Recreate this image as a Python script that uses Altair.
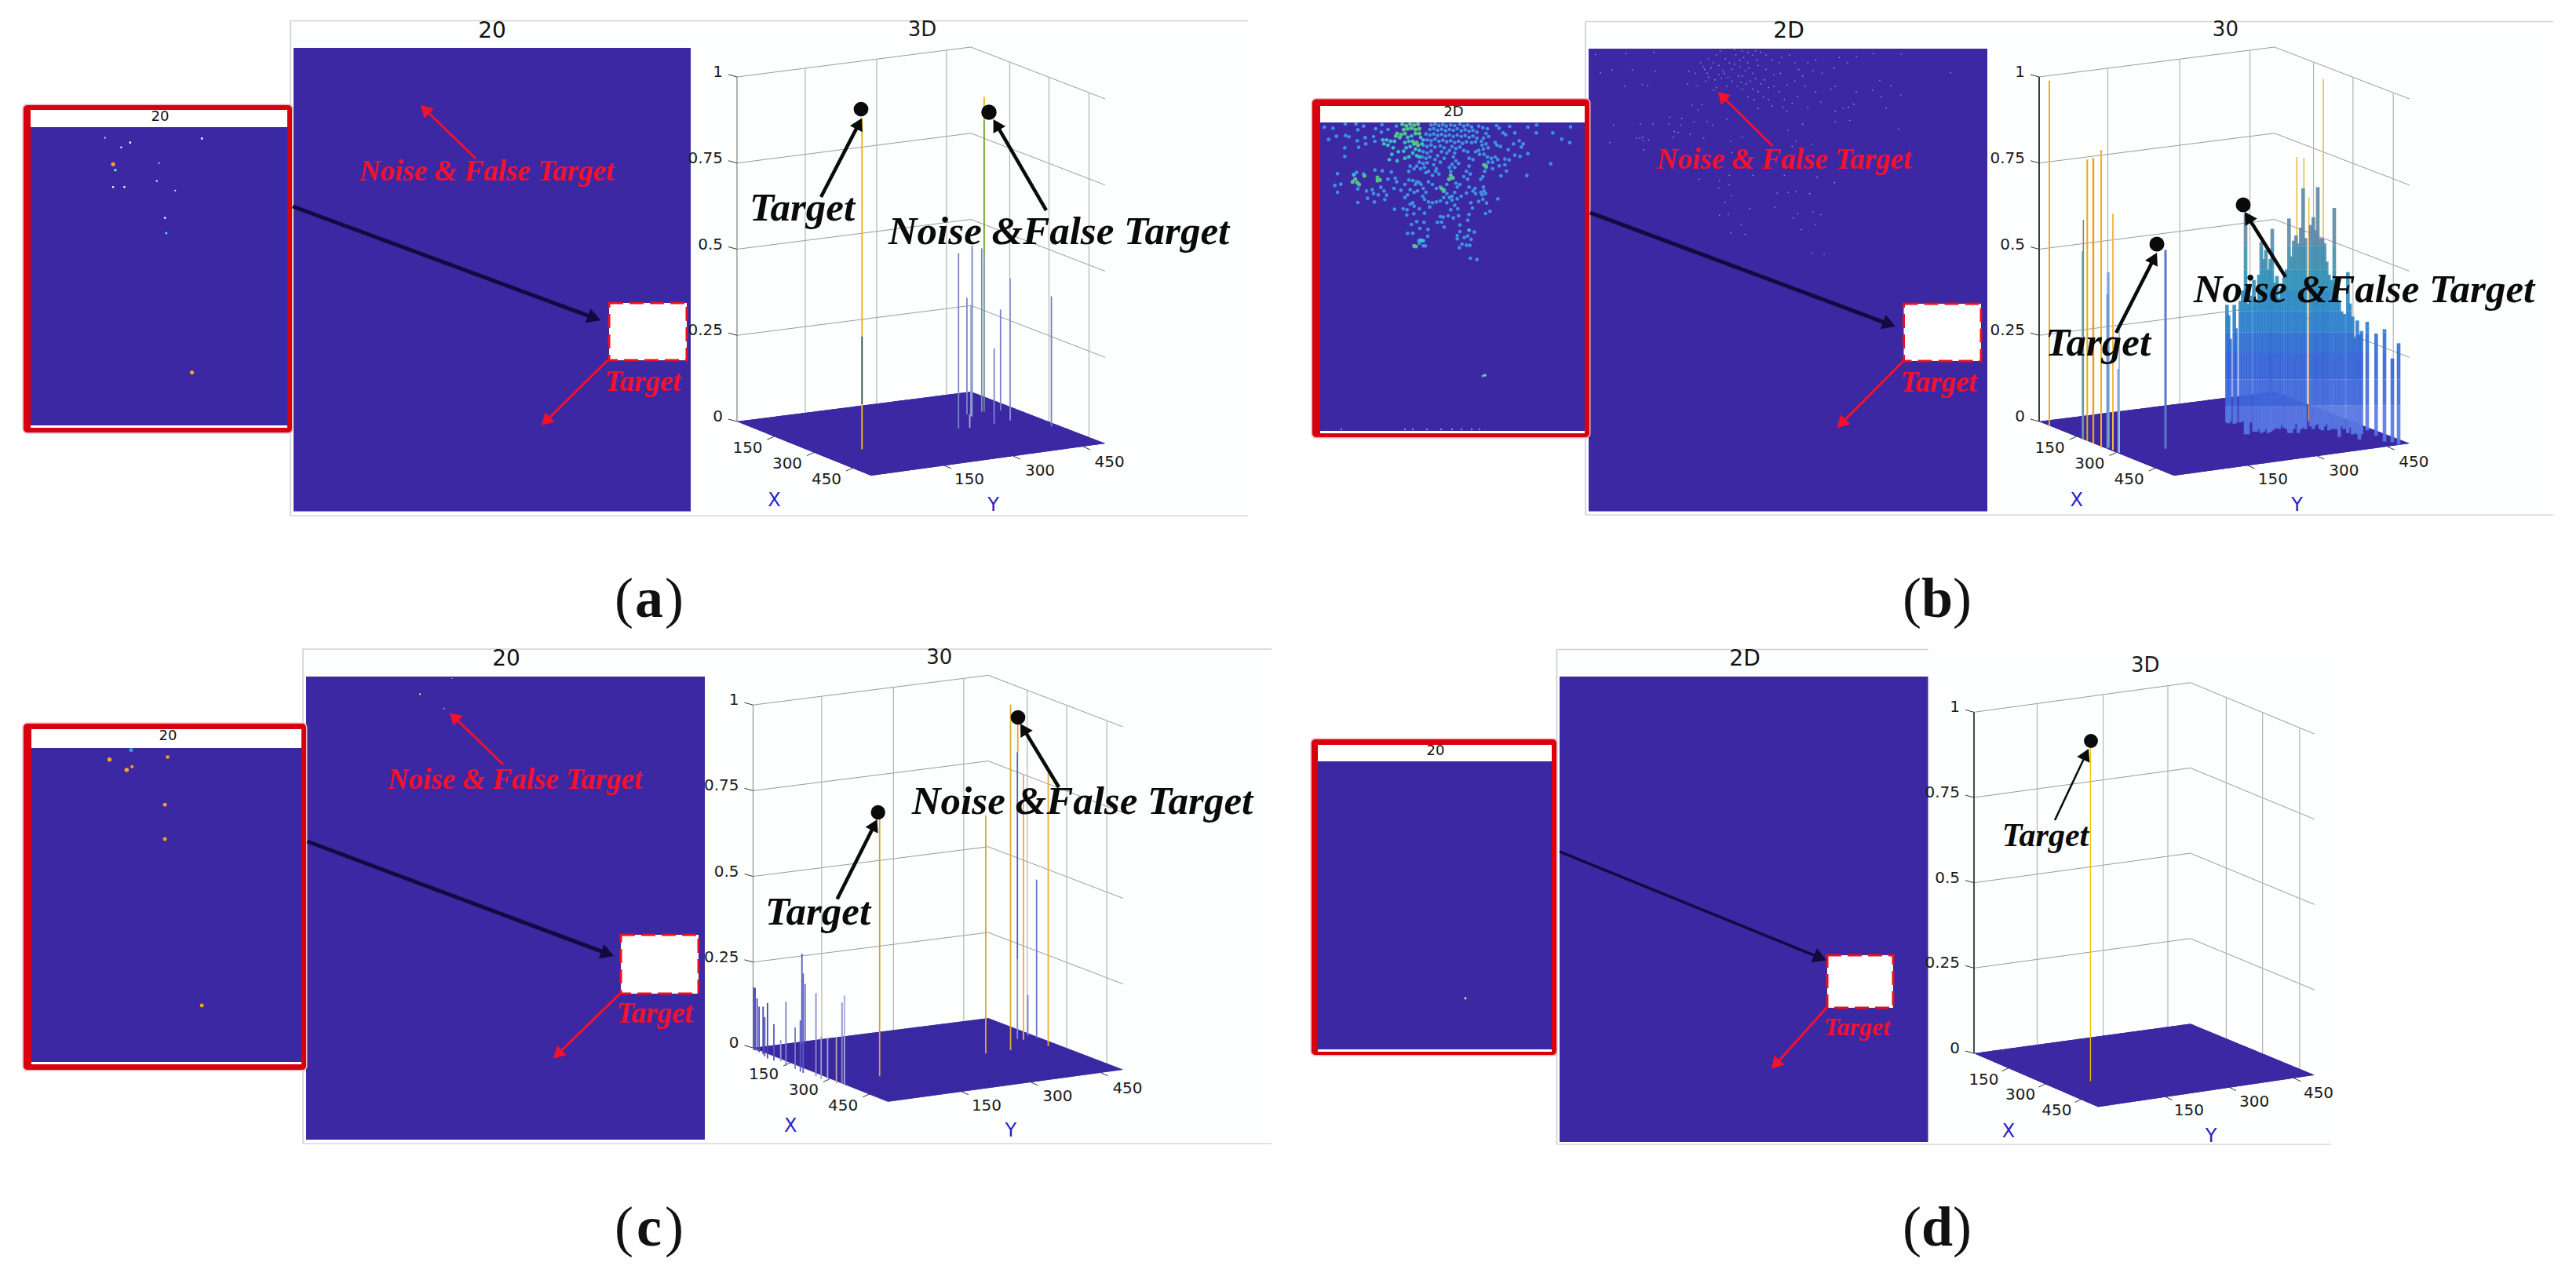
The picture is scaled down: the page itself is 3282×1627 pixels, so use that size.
import math
import altair as alt
import pandas as pd

# ---------- reading frames of the crops the values were read from ----------
Z_A = (860, 0, 1.96, 1.96)      # panel (a) 3D
Z_C = (860, 800, 1.96, 1.896)   # panel (c) 3D
Z_B_L = (2590, 80, 3, 3)        # panel (b) 3D, left spikes
Z_B_R = (2820, 170, 3, 3)       # panel (b) 3D, forest
Z_AI = (0, 0, 1.742, 1.96)      # panel (a) inset
Z_CI = (0, 800, 1.742, 1.896)   # panel (c) inset
Z_BI = (1680, 150, 3, 3)        # panel (b) inset
Z_BM = (2020, 60, 3, 3)         # panel (b) main 2D map

BLUE = "#3b28a2"
RED = "#f5102c"
BOX_RED = "#d8000f"
ORANGE = "#f5a623"
YEL = "#e8b30c"

# ---------- 2D panels ----------
PANEL_LEFT = [370, 2020, 386, 1983.5]
PANEL_TOP = [26.5, 27.5, 827, 827.5]
PANEL_BOTTOM = [657, 656, 1457, 1458]
PANEL_RIGHT = [1590, 3253, 1620, 2970]
MAP_BOX = [(374, 880, 61, 651.5), (2024, 2532, 62, 651.5), (390, 898, 862, 1452), (1987, 2456.5, 862, 1455)]
WHITE_BOX = [(776, 875, 386, 459), (2425.5, 2524, 387, 460), (791, 890, 1191, 1266), (2328, 2412, 1217, 1284)]
RED_OUTER = [(30, 372, 134, 551), (1672, 2025, 126.5, 557), (30, 390, 922, 1363), (1671, 1983, 942, 1344)]
INSET_WHITE = [(39, 366, 140, 545), (1682, 2019, 135, 552), (40, 384, 929, 1356), (1679, 1977, 949, 1340)]
INSET_MAP = [(39, 366, 162, 542), (1682, 2019, 156, 549), (40, 384, 953, 1353), (1679, 1977, 970, 1337)]
MAP_TITLES = ["20", "2D", "20", "2D"]
MAP_TITLE_POS = [(627, 40), (2279, 40), (645, 840), (2223, 840)]
INSET_TITLES = ["20", "2D", "20", "20"]
INSET_TITLE_POS = [(204, 149), (1852, 143), (214, 938), (1829, 957)]
BLACK_ARROWS = [((373, 263), (765, 408), 5), ((2026, 271), (2415, 416), 5), ((391.5, 1072), (782, 1218), 5), ((1987, 1085), (2327, 1223.5), 3.5)]
RED_ARROWS = [
    ((606, 202), (536, 134)), ((774, 459), (690, 542)),
    ((2258.5, 186), (2188.5, 117)), ((2425, 460), (2340.6, 545)),
    ((641, 974), (573, 908)), ((791, 1265), (705, 1348.5)),
    ((2327, 1284), (2257, 1362)),
]
RED_TEXT = [("Noise & False Target", 620, 219, 37), ("Target", 819, 487, 37),
            ("Noise & False Target", 2273, 204, 37), ("Target", 2470, 488, 37),
            ("Noise & False Target", 656, 993.5, 37), ("Target", 834, 1292, 37),
            ("Target", 2366, 1309, 32)]
CAPTION_LETTERS = ["a", "b", "c", "d"]
CAPTION_POS = [(827, 786), (2468, 786), (827, 1587), (2468, 1587)]

# ---------- 3D panels ----------
BOX_ORIGIN = [(939, 537, 1.0, 1.0), (2598, 537, 1.006, 1.0), (959.5, 1335, 1.005, 0.995), (2515, 1342, 0.925, 0.99)]
BOX_TITLES = ["3D", "30", "30", "3D"]
Z_LEVELS = [0, 0.25, 0.5, 0.75, 1]
Z_LABELS = ["0", "0.25", "0.5", "0.75", "1"]
Z_AXIS_STYLE = [("#808080", 1.2), ("#3a3a3a", 2), ("#909090", 1.2), ("#4a4a4a", 2)]
CORNER_LEFT, CORNER_FRONT, CORNER_RIGHT, CORNER_BACK = (0, 0), (171, 69), (469, 28), (298, -38)
BOX_HEIGHT = 439
WALL_L_X = [87, 178, 267]
WALL_R_X = [347.5, 397.5, 448.5]
X_TICK_BASE = [(47.5, 19), (98, 39.5), (148, 59)]
Y_TICK_BASE = [(264, 56), (352, 44), (441, 32)]
AXIS_TICK_LABELS = ["150", "300", "450"]
X_LABEL_POS = [(13.5, 34), (64, 54), (114, 74)]
Y_LABEL_POS = [(296, 74), (386, 62.5), (474.6, 52)]
X_NAME_POS = (47.5, 101)
Y_NAME_POS = (326.6, 107)

BLACK_DOTS = [(1097, 139, 350), (1260, 143, 380), (2748, 311, 360), (2858, 261, 360),
              (1118.7, 1035, 340), (1297, 914, 350), (2664, 944, 320)]
BLACK_DOT_ARROWS = [((1046, 251), (1098, 150.5), 4.5), ((1333, 268), (1265.6, 152), 4.5),
                    ((2696, 424), (2748, 322), 4.5), ((2912, 353), (2860, 270), 4.5),
                    ((1066.6, 1145.5), (1117.6, 1044), 4.5), ((1349, 1003), (1300, 922), 4.5),
                    ((2618, 1045), (2661, 954), 2.5)]
BLACK_TEXT = [("Target", 1022, 266, 51), ("Noise &False Target", 1349, 296, 51),
              ("Target", 2673, 438, 51), ("Noise &False Target", 3012, 370, 51),
              ("Target", 1042, 1163, 51), ("Noise &False Target", 1379, 1022, 51),
              ("Target", 2606, 1065, 42)]

# ---------- spikes: crop x, top, base, colour ----------
A_SPIKES = [
    (467, 295, 840, YEL), (467, 840, 1010, "#2a4a58"), (467, 1010, 1122, "#f0c010"),
    (772, 242, 300, YEL), (772, 300, 640, "#6c9c2c"), (772, 640, 1028, "#6f8a98"),
    (708, 632, 1070, "#7488c4"), (742, 614, 1040, "#7488c4"), (729, 744, 1035, "#7c88c8"),
    (739, 762, 1040, "#98a8d0"), (736, 1035, 1068, "#a8b0d8"), (766, 620, 1028, "#708cbc"),
    (797, 870, 1058, "#7c84d0"), (813, 773, 1025, "#7a80cc"), (837, 695, 1050, "#8a90d4"),
    (940, 740, 1065, "#787ecc"),
]
C_SPIKES = [
    (511, 463, 1083, "#d2a23a"), (776, 453, 1028, "#d6a640"), (838, 185, 1020, "#dcaa38"),
    (856, 232, 300, "#e0a83c"), (855, 300, 800, "#5560b0"), (855, 800, 993, "#8090c0"),
    (870, 355, 995, "#e6ae40"), (932, 350, 1010, "#e8ae38"), (903, 608, 990, "#6a78cc"),
    (881, 887, 985, "#7a88c8"),
    (197, 868, 1020, "#4a48b8"), (200, 870, 1020, "#4a48b8"), (205, 895, 1022, "#4a48b8"),
    (210, 915, 1025, "#4a48b8"), (220, 915, 1030, "#4a48b8"), (224, 940, 1035, "#4a48b8"),
    (231, 906, 1040, "#4a48b8"), (247, 957, 1045, "#5a58c0"), (264, 995, 1047, "#9a9ad0"),
    (277, 903, 1058, "#8080c8"), (300, 965, 1065, "#7878c0"), (313, 948, 1072, "#5a58c0"),
    (317, 787, 1005, "#5a5ac4"), (320, 835, 1075, "#5a5ac4"), (325, 860, 1000, "#6a6ac8"),
    (352, 882, 1083, "#8a8ad0"), (365, 987, 1090, "#a0a0c8"), (381, 990, 1095, "#b0a8c8"),
    (403, 988, 1100, "#b8a8b8"), (417, 905, 1100, "#8a8ad0"), (423, 888, 1105, "#a8a8dc"),
]
D_SPIKES = [(2663.4, 950, 1377.5, "#f0c000")]
B_LEFT_SPIKES = [
    (63, 68, 1390, "#eeb010", 2), (208, 370, 1445, "#e8a818", 2), (231, 365, 1455, "#e0a020", 2.4),
    (261, 333, 1470, "#f0b414", 2), (306, 577, 1480, "#f0bc40", 2), (193, 600, 1440, "#6c8c98", 1.6),
    (190, 720, 1440, "#6c9aa8", 2), (288, 800, 1470, "#7fa8dc", 3.4), (285, 885, 1475, "#6a90cc", 2.6),
    (330, 1010, 1490, "#a8c0dc", 2), (326, 1170, 1490, "#7a98cc", 2), (507, 715, 1475, "#5a78c8", 3),
]
B_FOREST_GOLD = [(319, 90, 1100), (346, 93, 1100), (420, -208, 1100), (365, 245, 1100)]
B_FOREST = [
    (52,655,1105),(58,695,1108),(64,785,1100),(80,655,1110),(86,745,1105),(103,640,1105),(112,600,1100),
    (123,305,1150),(133,650,1150),(142,620,1105),(155,560,1140),(165,640,1140),(174,540,1130),(183,415,1145),
    (192,480,1140),(201,445,1130),(210,520,1145),(218,480,1140),(225,365,1135),(234,570,1130),(243,545,1125),
    (252,630,1130),(260,590,1115),(270,550,1125),(280,520,1130),(289,325,1145),(298,470,1145),(307,410,1130),
    (316,390,1110),(325,420,1145),(334,360,1130),(343,210,1125),(352,400,1130),(372,350,1120),(382,320,1130),
    (391,370,1115),(399,205,1110),(408,400,1130),(417,400,1135),(425,420,1120),(433,490,1110),(442,540,1135),
    (452,560,1130),(462,285,1130),(472,570,1130),(481,640,1160),(490,680,1120),(500,690,1130),(514,530,1145),
    (522,650,1125),(532,700,1150),(541,780,1145),(550,715,1150),(558,770,1170),(566,755,1150),(588,720,1135),
    (622,765,1155),(654,748,1178),(684,860,1180),(708,802,1190),
]
FOREST_BANDS = [(-300, 430, "#5c88a6"), (430, 520, "#3f8eae"), (520, 600, "#3190b8"), (600, 680, "#2a88c4"),
                (680, 760, "#2a7ecc"), (760, 840, "#2e6ed2"), (840, 940, "#3462d6"), (940, 1040, "#3f68dc"), (1040, 1300, "#5878e2")]

# ---------- 2D scatter dots ----------
A_DOTS = [(233,344,"#d8f0ff",5),(269,368,"#e8f8ff",6),(289,356,"#ffffff",7),(448,346,"#e0f8ff",8),(251,410,ORANGE,26),
          (256,425,"#60f0e0",12),(353,407,"#40e0a0",6),(251,467,"#ffffff",7),(276,467,"#ffffff",7),(348,452,"#d8f8ff",6),
          (389,476,"#c0f0ff",5),(366,544,"#e0ffff",8),(369,582,"#40f0d0",9),(426,930,ORANGE,26)]
C_DOTS = [(291,295,"#1ea8d8",26),(243,318,ORANGE,28),(372,312,ORANGE,20),(293,335,ORANGE,16),(281,343,ORANGE,30),
          (366,427,ORANGE,24),(366,510,ORANGE,24),(448,912,ORANGE,24)]
C_MAP_DOTS = [(1003,122,"#ffd0a0",2),(932,160,"#ffe060",5),(986,195,"#f0a040",4)]
D_DOTS = [(1867, 1272, "#ffe680", 8)]
B_INSET_BLUE = [
    (22,36),(55,40),(102,24),(143,24),(172,32),(150,46),(218,42),(242,27),(38,83),(68,71),(103,68),(116,73),(148,88),(178,76),
    (180,100),(100,115),(153,113),(100,148),(210,72),(215,90),(240,55),(265,45),(297,32),(730,33),(800,36),(833,28),(963,35),
    (895,58),(929,82),(960,95),(832,58),(750,58),(745,100),(767,88),(782,100),(775,112),(725,122),(750,143),(770,148),(800,137),
    (887,176),(796,221),(718,204),(697,222),(712,158),(728,161),(712,180),(690,184),(685,310),(655,358),(638,366),(642,326),
    (612,320),(628,312),(580,537),(605,542),(72,214),(62,259),(85,254),(72,285),(145,209),(134,218),(172,215),(215,200),(243,203),
    (150,272),(183,280),(205,275),(210,290),(187,308),(228,295),(260,296),(253,313),(213,322),(150,324),(238,266),(250,280),
    (265,235),(293,231),(278,208),(288,270),(315,277),(330,255),(298,245),(290,350),(323,348),(338,352),(337,372),(364,367),
    (355,408),(375,397),(403,400),(387,423),(340,442),(360,442),(418,427),(417,453),(383,470),(395,470),(385,480),(400,490),
    (408,490),(454,400),(470,399),(480,418),(465,378),(476,380),(405,365),(385,348),(425,341),
    (430,28),(445,25),(460,30),(475,26),(488,32),(505,28),(520,30),(540,25),(555,32),(570,28),(585,35),(612,32),(628,38),(645,42),
    (680,30),(690,40),(715,65),(705,58),(425,45),(440,42),(455,48),(470,44),(485,50),(500,45),(515,48),(530,42),(545,50),(560,46),
    (575,52),(590,48),(605,55),(640,60),(650,72),(630,78),(622,90),(410,62),(425,66),(440,62),(455,68),(470,64),(485,70),(500,66),
    (515,72),(530,66),(545,72),(560,68),(575,75),(590,70),(605,78),(600,92),(585,95),(415,85),(430,88),(445,82),(460,90),(475,86),
    (490,92),(505,88),(520,95),(535,90),(550,98),(565,92),(675,95),(682,105),(695,110),(640,100),(625,105),(612,125),(630,120),
    (648,115),(400,105),(415,110),(430,104),(445,112),(465,108),(480,115),(510,110),(525,118),(540,112),(555,125),(520,135),
    (515,150),(525,165),(510,178),(520,190),(535,175),(400,130),(415,135),(430,128),(395,150),(410,155),(425,150),(385,170),
    (400,175),(415,172),(375,185),(390,195),(405,190),(365,195),(350,185),(345,205),(420,205),(410,210),(600,130),(615,140),
    (632,140),(645,150),(660,155),(675,150),(685,160),(665,170),(648,170),(640,190),(635,205),(665,195),(575,155),(590,160),
    (570,130),(450,195),(440,180),(465,170),(448,205),(460,215),(435,220),(575,185),(565,205),(580,215),(570,235),(555,225),
    (620,235),(628,225),(575,265),(598,270),(590,280),(600,290),(620,285),(632,280),(625,295),(638,290),(630,265),(565,288),
    (500,190),(505,205),(515,230),(525,250),(530,265),(520,285),(510,300),(490,290),(478,305),(465,318),(450,322),(435,325),
    (420,322),(405,312),(398,300),(410,285),(400,270),(392,255),(375,245),(360,240),(345,238),(370,255),(385,248),(420,245),
    (435,255),(350,275),(340,295),(330,305),(365,285),(378,280),(450,270),(465,265),(480,275),(490,255),(540,255),(545,300),
    (530,310),(500,305),(510,315),(490,325),(520,335),(532,348),(505,352),(495,375),(515,383),(535,375),(575,370),(570,392),
    (540,410),(595,437),(540,435),(530,450),(557,458),(570,452),(583,465),(530,463),(548,483),(565,487),(578,488),(538,497),
    (360,325),(350,330),(365,338),(582,325),(588,345),(500,125),(470,130),(455,145),(445,160),(480,155),(490,135),
]
B_INSET_TEAL = [
    (340,75),(355,70),(345,90),(330,95),(390,75),(400,85),(395,100),(350,110),(335,115),(370,120),(385,125),(360,135),(375,145),
    (345,150),(330,155),(385,150),(260,85),(275,90),(245,85),(250,100),(265,105),(290,90),(285,115),(305,130),(280,140),(270,160),
    (300,165),(325,128),(135,218),(575,430),(400,470),(390,468),
]
B_INSET_GREEN = [
    (320,25),(335,30),(350,25),(365,28),(380,25),(325,45),(340,42),(355,40),(370,45),(385,42),(300,60),(315,65),(330,60),(310,75),
    (295,70),(370,60),(385,60),(365,100),(375,95),(380,105),(360,90),(130,245),(140,235),(148,248),(155,255),(175,222),(225,228),
    (235,238),(225,240),(505,220),(498,235),(510,230),(470,270),(478,280),(632,180),(640,185),(365,490),(372,492),
]
B_INSET_FULL = [(1892,478,"#5fd8c8",14),(1889,479,"#4fc0e0",10),(1709,547,"#80c0e0",4),(1790,547,"#90d0a0",4),(1800,547,"#90d0a0",4),
                (1818,547,"#90c0c0",4),(1836,547,"#c0c090",4),(1850,547,"#c0c090",4),(1862,547,"#90c0c0",4),(1875,547,"#c0c090",4),(1885,547,"#90c0c0",4)]
B_MAP_DOTS = [
    (38,28),(103,87),(57,98),(150,150),(217,142),(237,147),(268,93),(155,25),(180,87),(262,20),(428,147),(390,140),(395,93),(420,100),
    (455,85),(465,100),(490,60),(510,70),(530,100),(560,85),(590,75),(600,110),(620,60),(640,30),(660,70),(690,85),(720,105),(745,100),
    (770,145),(800,130),(815,85),(850,60),(880,50),(905,100),(950,80),(970,40),(1000,60),(1035,35),(1100,25),(1207,27),(1395,98),
    (1125,127),(1167,147),(1097,165),(1035,170),(955,150),(938,160),(1130,190),(1205,183),(1150,233),(1025,218),(1005,230),(955,245),
    (985,235),(770,245),(755,230),(715,225),(660,235),(645,200),(620,190),(600,160),(580,150),(560,130),(540,150),(520,120),(500,155),
    (490,165),(430,240),(408,222),(445,220),(322,268),(368,272),(415,285),(465,285),(485,298),(320,293),(363,298),(258,293),(210,295),
    (107,298),(93,365),(195,348),(207,347),(218,345),(220,357),(242,356),(222,392),(340,323),(355,327),(335,345),(400,333),(452,348),
    (555,360),(600,345),(540,275),(775,318),(830,295),(790,380),(805,360),(865,372),(1010,280),(955,285),(1197,313),(560,403),(435,505),
    (512,510),(548,525),(510,538),(558,568),(533,593),(512,643),(546,640),(595,678),(555,710),(610,716),(733,558),(775,555),(805,553),
    (857,560),(885,497),(952,518),(812,637),(870,630),(900,640),(795,653),(880,678),(825,697),(868,787),(912,792),(723,612),(628,617),
    (640,490),(550,490),(760,490),(440,60),(450,75),(470,45),(480,80),(500,30),(515,15),(570,10),(535,45),(550,60),(575,30),(590,50),
    (605,40),(625,80),(640,100),(655,50),(610,90),(585,110),(570,65),(545,115),(525,90),(510,105),(495,125),(470,115),(460,130),(630,130),
    (615,140),(595,135),(650,120),(670,140),(685,125),(700,155),(720,150),(740,170),(760,200),(680,190),(700,200),(660,170),(640,160),
    (740,60),(715,50),(690,30),(670,20),(650,15),(600,15),(620,20),(750,40),(780,30),(800,60),(830,110),(870,90),(840,150),(880,170),
    (810,190),(790,215),(850,230),(900,210),
]

# ---------- helpers ----------
def fx(frame, v):
    return frame[0] + v / frame[2]

def fy(frame, v):
    return frame[1] + v / frame[3]

XS = alt.Scale(domain=[8, 3268], range=[0, 3260], zero=False, nice=False)
YS = alt.Scale(domain=[8, 1613], range=[0, 1605], zero=False, nice=False)
X = alt.X("x:Q", scale=XS, axis=None)
Y = alt.Y("y:Q", scale=YS, axis=None)

def rect_layer(rows, **mark):
    df = pd.DataFrame(rows, columns=["x", "x2", "y", "y2", "c"])
    return alt.Chart(df).mark_rect(**mark).encode(X, alt.X2("x2"), Y, alt.Y2("y2"), alt.Fill("c:N", scale=None))

def rule_layer(rows):
    df = pd.DataFrame(rows, columns=["x", "y", "x2", "y2", "c", "w", "o"])
    return alt.Chart(df).mark_rule().encode(
        X, Y, alt.X2("x2"), alt.Y2("y2"),
        alt.Color("c:N", scale=None), alt.Size("w:Q", scale=None), alt.Opacity("o:Q", scale=None))

def dot_layer(rows, opacity=1):
    df = pd.DataFrame(rows, columns=["x", "y", "c", "s"])
    return alt.Chart(df).mark_circle(opacity=opacity).encode(
        X, Y, alt.Color("c:N", scale=None), alt.Size("s:Q", scale=None))

def text_layer(rows, color, font, align="center", baseline="middle", style="normal", weight="normal"):
    df = pd.DataFrame(rows, columns=["t", "x", "y", "s"])
    return alt.Chart(df).mark_text(color=color, font=font, align=align, baseline=baseline,
                                   fontStyle=style, fontWeight=weight).encode(
        X, Y, alt.Text("t:N"), alt.Size("s:Q", scale=None))

def arrows(items, color, width_default, head):
    lines, heads = [], []
    for it in items:
        a, b = it[0], it[1]
        w = it[2] if len(it) > 2 else width_default
        dx, dy = b[0] - a[0], b[1] - a[1]
        L = math.hypot(dx, dy)
        ux, uy = dx / L, dy / L
        h = math.sqrt(head) * 0.866
        cx, cy = b[0] - ux * h / 2, b[1] - uy * h / 2
        lines.append((a[0], a[1], cx, cy, color, w, 1))
        heads.append((cx, cy, (math.degrees(math.atan2(dx, -dy))) % 360))
    hdf = pd.DataFrame(heads, columns=["x", "y", "a"])
    hl = alt.Chart(hdf).mark_point(shape="triangle-up", filled=True, color=color, opacity=1, size=head).encode(
        X, Y, alt.Angle("a:Q", scale=None))
    return [rule_layer(lines), hl]

layers = []

# page-like panel backgrounds and frame lines
frame = []
bg = []
for i in range(4):
    bg.append((PANEL_LEFT[i], PANEL_RIGHT[i], PANEL_TOP[i], PANEL_BOTTOM[i], "#fdfefe"))
    l, r, t, b = PANEL_LEFT[i], PANEL_RIGHT[i], PANEL_TOP[i], PANEL_BOTTOM[i]
    top_end = MAP_BOX[i][1] if i == 3 else r
    frame += [(l, t, top_end, t, "#d2d2d2", 1.5, 1), (l, b, r, b, "#d8d8d8", 1.5, 1), (l, t, l, b, "#cccccc", 1.5, 1)]
layers.append(rect_layer(bg))
layers.append(rule_layer(frame))

# main 2D maps
layers.append(rect_layer([(*MAP_BOX[i], BLUE) for i in range(4)]))
layers.append(dot_layer([(fx(Z_BM, a), fy(Z_BM, b), "#9cc0f5", 3) for a, b in B_MAP_DOTS], opacity=0.75))
layers.append(dot_layer([(fx(Z_CI, a), fy(Z_CI, b), c, s) for a, b, c, s in C_MAP_DOTS]))

# dashed white boxes
layers.append(rect_layer([(*WHITE_BOX[i], "#ffffff") for i in range(4)], stroke="#e8101c", strokeWidth=3, strokeDash=[18, 8]))

# inset boxes, with a soft edge round the red frame
def grown(b, g):
    return (b[0] - g, b[1] + g, b[2] - g, b[3] + g)

layers.append(rect_layer([(*grown(RED_OUTER[i], 1.5), "#e6b8bc") for i in range(4)], cornerRadius=6))
layers.append(rect_layer([(*RED_OUTER[i], BOX_RED) for i in range(4)], cornerRadius=5))
layers.append(rect_layer([(*INSET_WHITE[i], "#ffffff") for i in range(4)]))
layers.append(rect_layer([(*INSET_MAP[i], BLUE) for i in range(4)]))
layers.append(dot_layer([(fx(Z_AI, a), fy(Z_AI, b), c, s) for a, b, c, s in A_DOTS]))
layers.append(dot_layer([(fx(Z_CI, a), fy(Z_CI, b), c, s) for a, b, c, s in C_DOTS]))
layers.append(dot_layer(D_DOTS))
layers.append(dot_layer([(fx(Z_BI, a), fy(Z_BI, b), "#3f9ce6", 22) for a, b in B_INSET_BLUE], opacity=0.9))
layers.append(dot_layer([(fx(Z_BI, a), fy(Z_BI, b), "#3cc0c8", 24) for a, b in B_INSET_TEAL], opacity=0.95))
layers.append(dot_layer([(fx(Z_BI, a), fy(Z_BI, b), "#55c88a", 26) for a, b in B_INSET_GREEN], opacity=0.95))
layers.append(dot_layer(B_INSET_FULL))

# 3D boxes: floors, walls, ticks
def place(p, pt):
    ox, oy, sx, sy = BOX_ORIGIN[p]
    return (ox + pt[0] * sx, oy + pt[1] * sy)

floor_strips = []
grid = []
ticks = []
for p in range(4):
    L, F, R, K = [place(p, c) for c in (CORNER_LEFT, CORNER_FRONT, CORNER_RIGHT, CORNER_BACK)]
    upper = lambda x: K[1] + (x - K[0]) * (R[1] - K[1]) / (R[0] - K[0]) if x >= K[0] else L[1] + (x - L[0]) * (K[1] - L[1]) / (K[0] - L[0])
    lower = lambda x: F[1] + (x - F[0]) * (R[1] - F[1]) / (R[0] - F[0]) if x >= F[0] else L[1] + (x - L[0]) * (F[1] - L[1]) / (F[0] - L[0])
    vx = L[0] + 1
    while vx < R[0]:
        floor_strips.append((vx, upper(vx), vx, lower(vx), BLUE, 2, 1))
        vx += 1
    H = BOX_HEIGHT * BOX_ORIGIN[p][3]
    for z in Z_LEVELS[1:]:
        grid += [(L[0], L[1] - H * z, K[0], K[1] - H * z, "#9a9a9a", 1, 1),
                 (K[0], K[1] - H * z, R[0], R[1] - H * z, "#9a9a9a", 1, 1)]
    c, w = Z_AXIS_STYLE[p]
    grid.append((L[0], L[1], L[0], L[1] - H, c, w, 1))
    for wx in WALL_L_X + WALL_R_X:
        x0 = L[0] + wx * BOX_ORIGIN[p][2]
        y0 = upper(x0)
        grid.append((x0, y0, x0, y0 - H, "#b4b4b4", 1.2, 1))
    for z in Z_LEVELS:
        ticks.append((L[0] - 11, L[1] - H * z - 3, L[0], L[1] - H * z, "#333333", 1, 1))
    for t in X_TICK_BASE:
        a = place(p, t)
        ticks.append((a[0], a[1], a[0] - 9 * BOX_ORIGIN[p][2], a[1] + 4, "#333333", 1, 1))
    for t in Y_TICK_BASE:
        a = place(p, t)
        ticks.append((a[0], a[1], a[0] + 9 * BOX_ORIGIN[p][2], a[1] + 4, "#333333", 1, 1))
layers.append(rule_layer(grid))
layers.append(rule_layer(floor_strips))
layers.append(rule_layer(ticks))

# spikes
spikes = []
for x, t, b, c in A_SPIKES:
    spikes.append((fx(Z_A, x), fy(Z_A, t), fx(Z_A, x), fy(Z_A, b), c, 1.8, 1))
for x, t, b, c in C_SPIKES:
    spikes.append((fx(Z_C, x), fy(Z_C, t), fx(Z_C, x), fy(Z_C, b), c, 1.8, 1))
for x, t, b, c in D_SPIKES:
    spikes.append((x, t, x, b, c, 1.3, 1))
for x, t, b, c, w in B_LEFT_SPIKES:
    spikes.append((fx(Z_B_L, x), fy(Z_B_L, t), fx(Z_B_L, x), fy(Z_B_L, b), c, w, 1))
for x, t, b in B_FOREST_GOLD:
    spikes.append((fx(Z_B_R, x), fy(Z_B_R, t), fx(Z_B_R, x), fy(Z_B_R, b), "#eeba48", 1.6, 1))
for x, t, b in B_FOREST:
    for lo, hi, c in FOREST_BANDS:
        a, d = max(t, lo), min(b, hi)
        if a < d:
            spikes.append((fx(Z_B_R, x), fy(Z_B_R, a), fx(Z_B_R, x), fy(Z_B_R, d), c, 4.6, 0.9))
layers.append(rule_layer(spikes))

# arrows
layers += arrows(BLACK_ARROWS, "#120a40", 5, 380)
layers += arrows(RED_ARROWS, RED, 3, 300)
layers += arrows(BLACK_DOT_ARROWS, "#0a0a0a", 4.5, 320)

# black dots
layers.append(dot_layer([(a, b, "#0a0a0a", s) for a, b, s in BLACK_DOTS]))

# texts
SANS = "DejaVu Sans"
SERIF = "Liberation Serif"
layers.append(text_layer([(MAP_TITLES[i], MAP_TITLE_POS[i][0], MAP_TITLE_POS[i][1], 28) for i in range(4)], "#111111", SANS))
layers.append(text_layer([(INSET_TITLES[i], INSET_TITLE_POS[i][0], INSET_TITLE_POS[i][1], 18) for i in range(4)], "#111111", SANS))

box_text, blue_text, z_text = [], [], []
for p in range(4):
    L = place(p, CORNER_LEFT)
    H = BOX_HEIGHT * BOX_ORIGIN[p][3]
    top_y = L[1] - 499 * BOX_ORIGIN[p][3]
    box_text.append((BOX_TITLES[p], L[0] + 236 * BOX_ORIGIN[p][2], top_y, 26))
    for lbl, pos in zip(AXIS_TICK_LABELS, X_LABEL_POS):
        a = place(p, pos)
        box_text.append((lbl, a[0], a[1], 20))
    for lbl, pos in zip(AXIS_TICK_LABELS, Y_LABEL_POS):
        a = place(p, pos)
        box_text.append((lbl, a[0], a[1], 20))
    for z, lbl in zip(Z_LEVELS, Z_LABELS):
        z_text.append((lbl, L[0] - 18, L[1] - H * z - 6, 20))
    a = place(p, X_NAME_POS)
    blue_text.append(("X", a[0], a[1], 24))
    a = place(p, Y_NAME_POS)
    blue_text.append(("Y", a[0], a[1], 24))
layers.append(text_layer(box_text, "#1a1a1a", SANS))
layers.append(text_layer(z_text, "#1a1a1a", SANS, align="right"))
layers.append(text_layer(blue_text, "#2a20c4", SANS))
layers.append(text_layer(RED_TEXT, RED, SERIF, style="italic", weight="bold"))
layers.append(text_layer(BLACK_TEXT, "#0a0a0a", SERIF, style="italic", weight="bold"))

paren, letters = [], []
for i in range(4):
    x, y = CAPTION_POS[i]
    paren += [("(", x - 32, y, 72), (")", x + 32, y, 72)]
    letters.append((CAPTION_LETTERS[i], x, y, 72))
layers.append(text_layer(paren, "#111111", SERIF, baseline="alphabetic"))
layers.append(text_layer(letters, "#111111", SERIF, baseline="alphabetic", weight="bold"))

chart = alt.layer(*layers).properties(
    width=3260, height=1605, padding=0,
    autosize=alt.AutoSizeParams(type="none"),
    background="#ffffff",
).configure_view(stroke=None)

chart.save("out.html", embed_options={"renderer": "svg", "actions": False})
